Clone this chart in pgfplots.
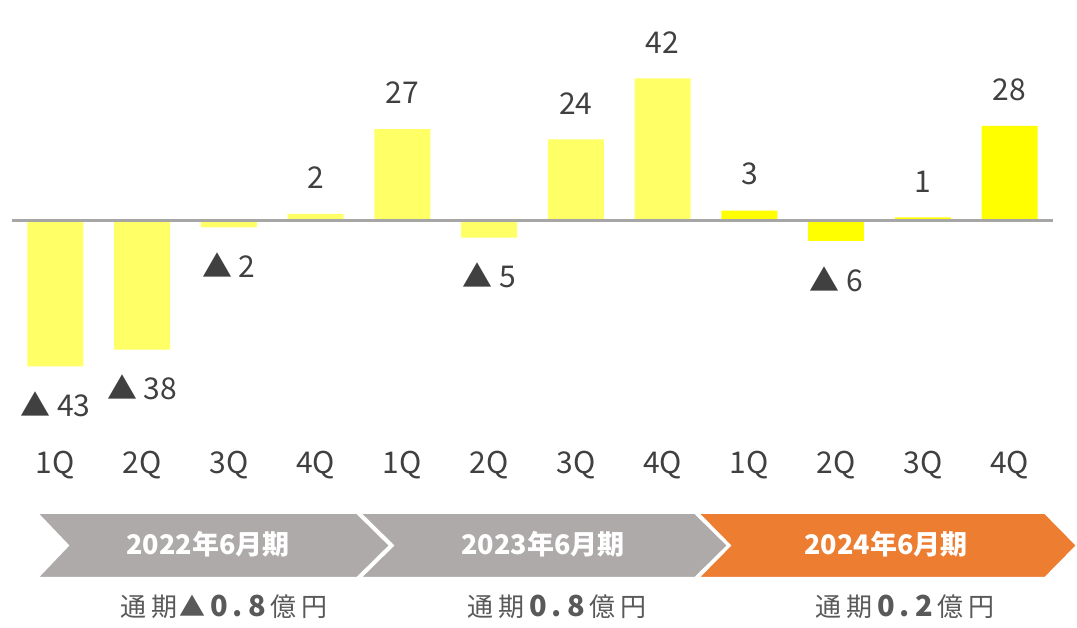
\documentclass[border=0pt]{standalone}
\usepackage{fontspec}
\setmainfont{Noto Sans CJK JP}
\usepackage{pgfplots}
\pgfplotsset{compat=1.18}
\definecolor{pale}{HTML}{FFFF66}
\definecolor{bright}{HTML}{FFFF00}
\definecolor{chgray}{HTML}{AEAAAA}
\definecolor{chorange}{HTML}{ED7D31}
\definecolor{txt}{HTML}{404040}
\definecolor{subtxt}{HTML}{595959}
\definecolor{zline}{HTML}{A6A6A6}
\newcommand\ds{\hspace{5pt}}
\newcommand\num[1]{{\bfseries\fontsize{29}{30}\selectfont #1}}
\begin{document}
\begin{tikzpicture}[x=1pt,y=1pt]
\useasboundingbox (0,0) rectangle (1077,628);
\begin{axis}[
  at={(12pt,170pt)}, anchor=south west,
  scale only axis, width=1041pt, height=440.7pt,
  xmin=-0.5, xmax=11.5, ymin=-70, ymax=60,
  axis line style={draw=none},
  ytick=\empty,
  xtick={0,...,11},
  xticklabels={1Q,2Q,3Q,4Q,1Q,2Q,3Q,4Q,1Q,2Q,3Q,4Q},
  major tick length=0pt,
  xticklabel style={anchor=base, yshift=-16pt, font=\fontsize{30}{36}\selectfont, text=txt},
  ybar, bar width=56pt, bar shift=0pt,
  nodes near coords, point meta=explicit symbolic,
  every node near coord/.append style={font=\fontsize{30}{36}\selectfont, text=txt, inner ysep=25pt, inner xsep=0pt},
  clip=false,
]
% 2022-2023, positive
\addplot[fill=pale, draw=none, every node near coord/.append style={anchor=south}] coordinates {
  (3,2) [2]
  (4,27) [27]
  (6,24) [24]
  (7,42) [42]
};
% 2022-2023, negative
\addplot[fill=pale, draw=none, every node near coord/.append style={anchor=north}] coordinates {
  (0,-43) [▲ 43]
  (1,-38) [▲ 38]
  (2,-2) [▲ 2]
  (5,-5) [▲ 5]
};
% 2024, positive
\addplot[fill=bright, draw=none, every node near coord/.append style={anchor=south}] coordinates {
  (8,3) [3]
  (10,1) [1]
  (11,28) [28]
};
% 2024, negative
\addplot[fill=bright, draw=none, every node near coord/.append style={anchor=north}] coordinates {
  (9,-6) [▲ 6]
};
\draw[zline, line width=2.7pt] (axis cs:-0.5,0) -- (axis cs:11.5,0);
\end{axis}
\filldraw[fill=chgray, draw=white, line width=2pt] (37,115) -- (357,115) -- (390,82.5) -- (357,50) -- (37,50) -- (68,82.5) -- cycle;
\filldraw[fill=chgray, draw=white, line width=2pt] (360,115) -- (695,115) -- (728,82.5) -- (695,50) -- (360,50) -- (393,82.5) -- cycle;
\filldraw[fill=chorange, draw=white, line width=2pt] (698,115) -- (1045,115) -- (1077,82.5) -- (1045,50) -- (698,50) -- (730,82.5) -- cycle;
\node[anchor=base, text=white, font=\bfseries\fontsize{27}{32}\selectfont] at (208,73) {2022年6月期};
\node[anchor=base, text=white, font=\bfseries\fontsize{27}{32}\selectfont] at (543,73) {2023年6月期};
\node[anchor=base, text=white, font=\bfseries\fontsize{27}{32}\selectfont] at (886,73) {2024年6月期};
\node[anchor=base, text=subtxt, font=\fontsize{26}{30}\selectfont] at (224,11) {通\ds 期\hspace{2pt}▲\ds\num{0\ds.\ds 8}\ds 億\ds 円};
\node[anchor=base, text=subtxt, font=\fontsize{26}{30}\selectfont] at (557,11) {通\ds 期\ds\num{0\ds.\ds 8}\ds 億\ds 円};
\node[anchor=base, text=subtxt, font=\fontsize{26}{30}\selectfont] at (905,11) {通\ds 期\ds\num{0\ds.\ds 2}\ds 億\ds 円};
\end{tikzpicture}
\end{document}
